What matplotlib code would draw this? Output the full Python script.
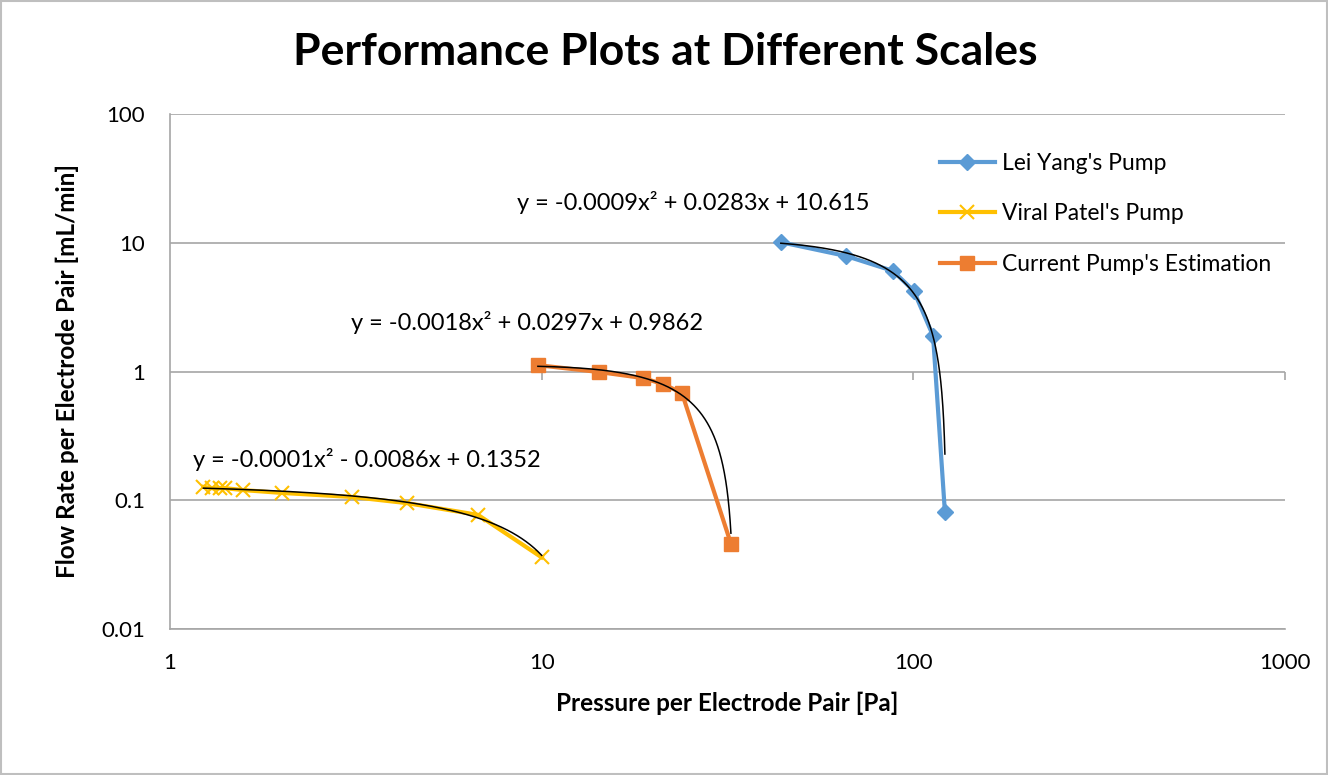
import numpy as np
import matplotlib.pyplot as plt
from matplotlib.patches import Rectangle

plt.rcParams['font.family'] = ['Lato', 'DejaVu Sans']

# Lei Yang's pump
lei_p = [44.0, 65.9, 88.2, 100.3, 113.0, 121.6]
lei_q = [10.1, 7.89, 6.04, 4.22, 1.89, 0.081]

# Viral Patel's pump
viral_p = [1.23, 1.30, 1.36, 1.41, 1.57, 2.0, 3.09, 4.34, 6.74, 10.0]
viral_q = [0.127, 0.124, 0.124, 0.124, 0.120, 0.114, 0.106, 0.095, 0.077, 0.036]

# Current pump's estimation
cur_p = [9.77, 14.3, 18.7, 21.2, 23.85, 32.3]
cur_q = [1.12, 0.99, 0.89, 0.80, 0.68, 0.046]

equations = [
    "y = -0.0009x² + 0.0283x + 10.615",
    "y = -0.0018x² + 0.0297x + 0.9862",
    "y = -0.0001x² - 0.0086x + 0.1352",
]

fig = plt.figure(figsize=(13.28, 7.75), dpi=100)
ax = fig.add_axes([170/1328, 1-629/775, (1285-170)/1328, (629-114)/775])

# outer chart border
fig.patches.append(Rectangle((0.001, 0.001), 0.998, 0.998, transform=fig.transFigure,
                             fill=False, edgecolor='#bfbfbf', linewidth=1.5))

ax.set_xscale('log')
ax.set_yscale('log')
ax.set_xlim(1, 1000)
ax.set_ylim(0.01, 100)

# series
ax.plot(lei_p, lei_q, color='#5B9BD5', lw=3, marker='D', ms=8, label="Lei Yang's Pump")
ax.plot(viral_p, viral_q, color='#FFC000', lw=3, marker='x', ms=10, mew=1.5,
        label="Viral Patel's Pump")
ax.plot(cur_p, cur_q, color='#ED7D31', lw=3, marker='s', ms=10,
        label="Current Pump's Estimation")

# polynomial trendlines (order 2), drawn over each data range
for px, qy in [(lei_p, lei_q), (viral_p, viral_q), (cur_p, cur_q)]:
    c = np.polyfit(px, qy, 2)
    xs = np.linspace(min(px), max(px), 400)
    ys = np.polyval(c, xs)
    m = ys > 0
    ax.plot(xs[m], ys[m], color='black', lw=1.1, zorder=5)

# equation labels
fig.text(517/1328, 1-202/775, equations[0], fontsize=17, va='center', ha='left')
fig.text(351/1328, 1-323/775, equations[1], fontsize=17, va='center', ha='left')
fig.text(193/1328, 1-460/775, equations[2], fontsize=17, va='center', ha='left')

# grid and spines
ax.grid(axis='y', which='major', color='#a6a6a6', lw=1.2)
ax.grid(axis='x', visible=False)
ax.minorticks_off()
for s in ['top', 'right']:
    ax.spines[s].set_visible(False)
ax.spines['left'].set_color('#a6a6a6')
ax.spines['left'].set_linewidth(1.2)
ax.spines['bottom'].set_color('#a6a6a6')
ax.spines['bottom'].set_linewidth(1.2)
ax.tick_params(axis='y', length=0, labelsize=16, pad=18)
ax.tick_params(axis='x', length=0, labelsize=16, pad=17)
ax.set_xticks([1, 10, 100, 1000])
ax.set_xticklabels(['1', '10', '100', '1000'])
ax.set_yticks([0.01, 0.1, 1, 10, 100])
ax.set_yticklabels(['0.01', '0.1', '1', '10', '100'])

# horizontal axis line crossing at y = 1
sec = ax.secondary_xaxis(0.5)
sec.set_xticks([10, 100, 1000])
sec.tick_params(axis='x', direction='out', length=6, color='#a6a6a6', width=1.2,
                labelbottom=False, labeltop=False, bottom=True, top=False)
sec.spines['bottom'].set_color('#a6a6a6')
sec.spines['bottom'].set_linewidth(1.2)
sec.spines['top'].set_visible(False)
sec.minorticks_off()

ax.set_xlabel("Pressure per Electrode Pair [Pa]", fontsize=17.5, fontweight='bold', labelpad=14)
ax.set_ylabel("Flow Rate per Electrode Pair [mL/min]", fontsize=17.5, fontweight='bold', labelpad=16)
fig.text(665/1328, 1-52/775, "Performance Plots at Different Scales", fontsize=32,
         fontweight='bold', ha='center', va='center')

ax.legend(loc='upper left', bbox_to_anchor=(0.672, 0.965), frameon=False, fontsize=16.5,
          handlelength=2.4, labelspacing=1.3, handletextpad=0.3)

fig.savefig('out.png', dpi=100)
